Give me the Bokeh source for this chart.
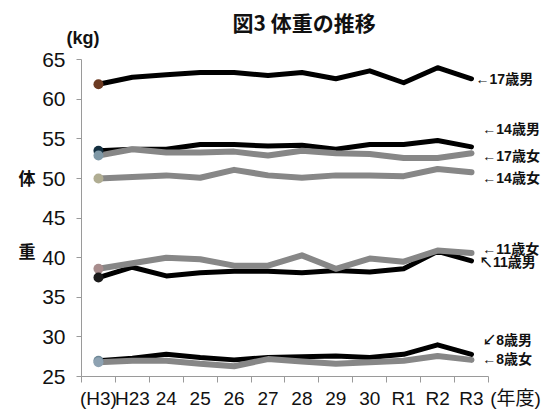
from bokeh.plotting import figure
from bokeh.models import Range1d, FixedTicker, Label, LinearAxis, Title
from bokeh.embed import file_html
from bokeh.resources import INLINE

# ---- data -------------------------------------------------------------
years = ["(H3)", "H23", "24", "25", "26", "27", "28", "29", "30", "R1", "R2", "R3"]
boy17 = [61.9, 62.8, 63.1, 63.4, 63.4, 63.0, 63.4, 62.6, 63.6, 62.1, 64.0, 62.6]
boy14 = [53.5, 53.7, 53.7, 54.3, 54.3, 54.1, 54.2, 53.7, 54.3, 54.3, 54.8, 54.0]
girl17 = [52.9, 53.7, 53.3, 53.3, 53.4, 52.9, 53.5, 53.2, 53.1, 52.6, 52.6, 53.2]
girl14 = [50.0, 50.2, 50.4, 50.1, 51.1, 50.4, 50.1, 50.4, 50.4, 50.3, 51.2, 50.8]
girl11 = [38.6, 39.3, 40.0, 39.8, 39.0, 39.0, 40.3, 38.6, 39.9, 39.5, 40.9, 40.6]
boy11 = [37.5, 38.8, 37.7, 38.1, 38.3, 38.3, 38.1, 38.4, 38.2, 38.6, 40.8, 39.6]
boy8 = [27.0, 27.3, 27.8, 27.4, 27.1, 27.4, 27.5, 27.6, 27.4, 27.8, 29.0, 27.8]
girl8 = [26.8, 27.0, 27.0, 26.6, 26.3, 27.2, 26.9, 26.6, 26.8, 27.0, 27.6, 27.1]
y_ticks = [25, 30, 35, 40, 45, 50, 55, 60, 65]
series_names = ["17歳男", "14歳男", "17歳女", "14歳女", "11歳女", "11歳男", "8歳男", "8歳女"]
title_text = "図3  体重の推移"
unit_text = "(kg)"
y_title_chars = ["体", "重"]
x_title_text = "(年度)"

# ---- styling ----------------------------------------------------------
BLACK = "#000000"
GRAY = "#878787"
AXIS = "#9a9a9a"
TXT = "#111111"
NARROW = "Liberation Sans Narrow, Liberation Sans, sans-serif"
CJK = "Noto Sans CJK JP"
MIXED = "Liberation Sans, Noto Sans CJK JP"

n = len(years)
xs = [i + 0.5 for i in range(n)]

p = figure(width=550, height=416, output_backend="svg", toolbar_location=None,
           x_range=Range1d(0, 13.83), y_range=Range1d(25, 66.55),
           min_border_left=81, min_border_right=0, min_border_top=47,
           min_border_bottom=40)
p.outline_line_color = None
p.grid.grid_line_color = None

# ---- x axis: boundary tick marks (bounded line) --------------------------
xa = p.xaxis[0]
xa.bounds = (0, n)
xa.ticker = FixedTicker(ticks=[], minor_ticks=list(range(n + 1)))
xa.major_tick_out = 6
xa.major_tick_in = 0
xa.major_tick_line_color = None
xa.minor_tick_line_color = AXIS
xa.minor_tick_out = 6
xa.minor_tick_in = 0
xa.axis_line_color = AXIS
xa.major_label_standoff = 0
xa.major_label_text_font_size = "0px"

# labels axis (category names + unit)
xl = LinearAxis(ticker=FixedTicker(ticks=xs + [12.8]))
xl.major_label_overrides = {**{x: lab for x, lab in zip(xs, years)}, 12.8: x_title_text}
xl.axis_line_color = None
xl.major_tick_line_color = None
xl.minor_tick_line_color = None
xl.major_tick_out = 0
xl.major_tick_in = 0
xl.major_label_standoff = 5
xl.major_label_text_font = MIXED
xl.major_label_text_font_size = "19px"
xl.major_label_text_color = TXT
p.add_layout(xl, "below")

# ---- y axis ------------------------------------------------------------
ya = p.yaxis[0]
ya.bounds = (25, 65)
ya.ticker = FixedTicker(ticks=y_ticks)
ya.minor_tick_line_color = None
ya.major_tick_line_color = AXIS
ya.major_tick_out = 5
ya.major_tick_in = 0
ya.axis_line_color = AXIS
ya.major_label_text_font = NARROW
ya.major_label_text_font_size = "21px"
ya.major_label_text_color = TXT
ya.major_label_standoff = 11

yl = LinearAxis(ticker=FixedTicker(ticks=[50.1, 40.9]))
yl.major_label_overrides = {50.1: y_title_chars[0], 40.9: y_title_chars[1]}
yl.axis_line_color = None
yl.major_tick_line_color = None
yl.minor_tick_line_color = None
yl.major_tick_out = 0
yl.major_tick_in = 0
yl.major_label_standoff = 4
yl.major_label_text_font = CJK
yl.major_label_text_font_style = "bold"
yl.major_label_text_font_size = "17px"
yl.major_label_text_color = TXT
p.add_layout(yl, "left")

# ---- titles above --------------------------------------------------------
p.add_layout(Title(text=unit_text, align="left", offset=-15, standoff=0,
                   text_font=NARROW, text_font_style="bold", text_font_size="18px",
                   text_color=TXT), "above")
p.add_layout(Title(text=title_text, align="left", offset=151, standoff=-22,
                   text_font=CJK, text_font_style="bold", text_font_size="21px",
                   text_color=TXT), "above")

# ---- lines ---------------------------------------------------------------
LW = 5
for ys in (boy17, boy14, boy11, boy8):
    p.line(xs, ys, line_color=BLACK, line_width=LW, line_join="round", line_cap="round")
for ys in (girl17, girl14, girl11, girl8):
    p.line(xs, ys, line_color=GRAY, line_width=LW + 1, line_join="round", line_cap="round")

marker_colors = [
    ("#6b3a22", boy17), ("#143040", boy14), ("#7f98a6", girl17), ("#b0ad92", girl14),
    ("#a88d8d", girl11), ("#1a1a1a", boy11), ("#6d8796", boy8), ("#8ea2b2", girl8),
]
for col, ys in marker_colors:
    p.scatter([xs[0]], [ys[0]], size=10, marker="circle", fill_color=col, line_color=None)

# ---- series labels on the right -----------------------------------------
right_labels = [
    ("←" + series_names[0], 11.62, 62.6),
    ("←" + series_names[1], 11.82, 56.3),
    ("←" + series_names[2], 11.82, 52.9),
    ("←" + series_names[3], 11.82, 50.1),
    ("←" + series_names[4], 11.82, 41.1),
    ("↖" + series_names[5], 11.72, 39.4),
    ("↙" + series_names[6], 11.82, 29.6),
    ("←" + series_names[7], 11.82, 27.2),
]
for txt, lx, ly in right_labels:
    p.add_layout(Label(x=lx, y=ly, text=txt, text_font=MIXED, text_font_style="bold",
                       text_font_size="14px", text_align="left", text_baseline="middle",
                       text_color=TXT))

open("out.html", "w").write(file_html(p, INLINE))
